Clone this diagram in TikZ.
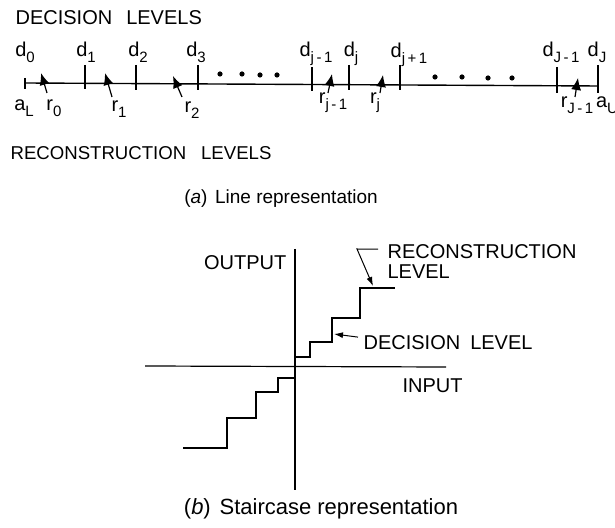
\documentclass[tikz,border=0pt]{standalone}
\usepackage{fontspec}
\setmainfont{Liberation Sans}
\usetikzlibrary{arrows.meta}
\tikzstyle{caps}=[inner sep=0pt, font=\fontsize{10}{12}\selectfont]
\tikzstyle{lbl}=[inner sep=0pt, font=\fontsize{10}{12}\selectfont]
\tikzstyle{capt}=[inner sep=0pt, font=\fontsize{9.5}{11}\selectfont]
\tikzstyle{rarrow}=[line width=0.6pt, -{Latex[length=6pt,width=5pt]}]
\tikzstyle{lead}=[line width=0.5pt, -{Latex[length=4.5pt,width=3pt]}]
\tikzstyle{stair}=[line width=1.4pt, line join=miter]
\tikzstyle{dtick}=[line width=0.6pt]
\newcommand{\lsub}[1]{\raisebox{-0.55ex}{\fontsize{7.5}{8}\selectfont#1}}

\begin{document}
\begin{tikzpicture}[x=0.5pt, y=-0.5pt, line width=0.6pt]
    \useasboundingbox (0,0) rectangle (615,528);
    % (a) line representation
    \coordinate (la) at (25,83);
    \coordinate (lb) at (598,86);
    \draw[line width=0.7pt] (la) -- (lb);
    \draw[dtick] (25,78) -- (25,89);
    \draw[dtick] (85,65) -- (85,89);
    \draw[dtick] (136,65) -- (136,90);
    \draw[dtick] (198,65) -- (198,90);
    \draw[dtick] (312,67) -- (312,91);
    \draw[dtick] (349,65) -- (349,90);
    \draw[dtick] (400,65) -- (400,90);
    \draw[dtick] (557,67) -- (557,93);
    \draw[dtick] (598,65) -- (598,93);
    \node[lbl, anchor=base] (d0) at (25,57) {d\lsub{0}};
    \node[lbl, anchor=base] (d1) at (86,57) {d\lsub{1}};
    \node[lbl, anchor=base] (d2) at (138,57) {d\lsub{2}};
    \node[lbl, anchor=base] (d3) at (196,57) {d\lsub{3}};
    \node[lbl, anchor=base] (dj1) at (316,57) {d\lsub{j\,-\,1}};
    \node[lbl, anchor=base] (dj) at (351,57) {d\lsub{j}};
    \node[lbl, anchor=base] (djp) at (409,58) {d\lsub{j\,+\,1}};
    \node[lbl, anchor=base] (dJ1) at (561,57) {d\lsub{J\,-\,1}};
    \node[lbl, anchor=base] (dJ) at (597,57) {d\lsub{J}};
    \fill (220,74) circle[radius=1.3pt];
    \fill (242,74) circle[radius=1.3pt];
    \fill (260,75) circle[radius=1.3pt];
    \fill (277,75) circle[radius=1.3pt];
    \fill (435,77) circle[radius=1.3pt];
    \fill (462,77) circle[radius=1.3pt];
    \fill (488,78) circle[radius=1.3pt];
    \fill (512,78) circle[radius=1.3pt];
    \coordinate (s0) at (47,93);   \coordinate (t0) at (41,73);
    \coordinate (s1) at (112,97);  \coordinate (t1) at (105,73);
    \coordinate (s2) at (182,97);  \coordinate (t2) at (173,76);
    \coordinate (s3) at (328,93);  \coordinate (t3) at (332,74);
    \coordinate (s4) at (380,93);  \coordinate (t4) at (383,75);
    \coordinate (s5) at (575,97);  \coordinate (t5) at (578,78);
    \draw[rarrow] (s0) -- (t0);
    \draw[rarrow] (s1) -- (t1);
    \draw[rarrow] (s2) -- (t2);
    \draw[rarrow] (s3) -- (t3);
    \draw[rarrow] (s4) -- (t4);
    \draw[rarrow] (s5) -- (t5);
    \node[lbl, anchor=base] (aL) at (24,111) {a\lsub{L}};
    \node[lbl, anchor=base] (r0) at (54,111) {r\lsub{0}};
    \node[lbl, anchor=base] (r1) at (119,112) {r\lsub{1}};
    \node[lbl, anchor=base] (r2) at (192,113) {r\lsub{2}};
    \node[lbl, anchor=base] (rj1) at (333,104) {r\lsub{j\,-\,1}};
    \node[lbl, anchor=base] (rj) at (375,104) {r\lsub{j}};
    \node[lbl, anchor=base] (rJ1) at (577,108) {r\lsub{J\,-\,1}};
    \node[lbl, anchor=base] (aU) at (607,108) {a\lsub{U}};
    \node[caps, anchor=base west] (declev) at (15,25) {DECISION\hspace{0.7em}LEVELS};
    \node[caps, anchor=base west, font=\fontsize{9.3}{11}\selectfont] (reclev) at (10,160) {RECONSTRUCTION\hspace{0.8em}LEVELS};
    \node[capt, anchor=base] (capa) at (281,204) {(\textit{a})\hspace{0.4em}Line representation};
    % (b) staircase representation
    \coordinate (xl) at (145,366);
    \coordinate (xr) at (446,367);
    \coordinate (yt) at (295,249);
    \coordinate (yb) at (295,490);
    \draw (xl) -- (xr);
    \draw (yt) -- (yb);
    \draw[stair] (183,448) -- (227,448) -- (227,418) -- (256,418) -- (256,392)
        -- (278,392) -- (278,378) -- (295,378) -- (295,357) -- (310,357)
        -- (310,342) -- (332,342) -- (332,318) -- (360,318) -- (360,288) -- (395,288);
    \node[caps, anchor=base east] (out) at (287,270) {OUTPUT};
    \node[caps, anchor=base west] (inp) at (402,393) {INPUT};
    \node[caps, anchor=base west] (rec) at (387,259) {RECONSTRUCTION};
    \node[caps, anchor=base west] (lev) at (387,279) {LEVEL};
    \node[caps, anchor=base west] (dec) at (363,350) {DECISION\hspace{0.5em}LEVEL};
    \coordinate (rk) at (357,249);
    \coordinate (rt) at (373,286);
    \coordinate (dt) at (334,334);
    \draw[lead] ([xshift=-4.5pt,yshift=1.5pt]rec.west) -- (rk) -- (rt);
    \draw[lead] ([xshift=-2.5pt,yshift=3pt]dec.west) -- (dt);
    \node[capt, anchor=base, font=\fontsize{11}{13}\selectfont] (capb) at (321,514) {(\textit{b})\hspace{0.4em}Staircase representation};
\end{tikzpicture}
\end{document}
